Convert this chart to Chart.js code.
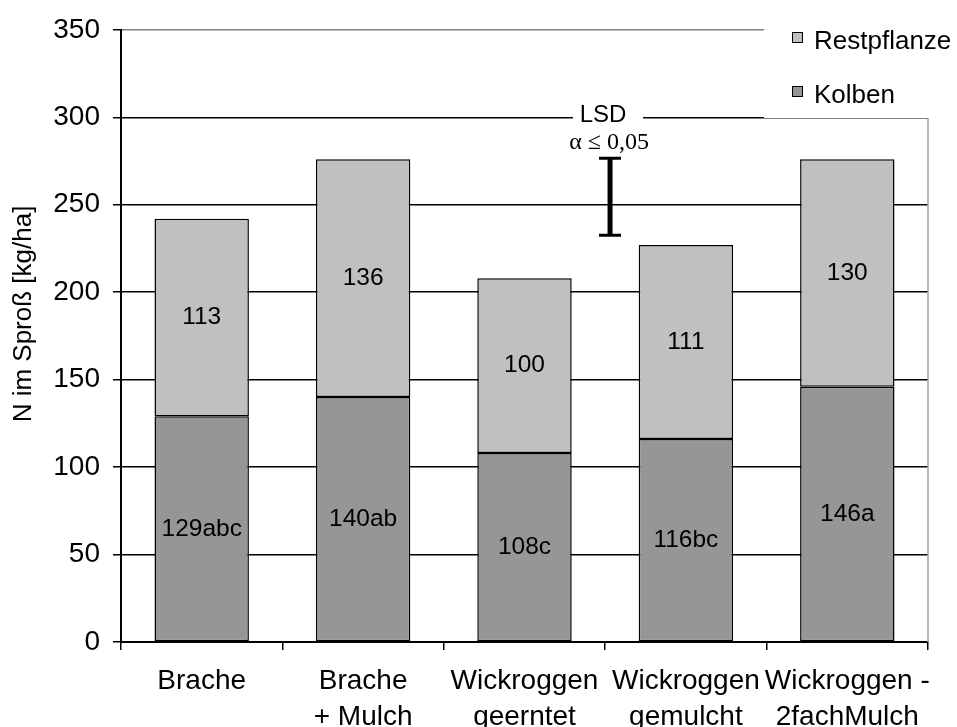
<!DOCTYPE html>
<html>
<head>
<meta charset="utf-8">
<script src="https://cdn.jsdelivr.net/npm/chart.js@4.4.1/dist/chart.umd.min.js"></script>
<style>
  html, body { margin: 0; padding: 0; background: #fff; }
  #c { display: block; }
</style>
</head>
<body>
<canvas id="c" width="957" height="727"></canvas>
<script>
// data
var categories = [
	['Brache'],
	['Brache', '+ Mulch'],
	['Wickroggen', 'geerntet'],
	['Wickroggen', 'gemulcht'],
	['Wickroggen -', '2fachMulch']
];
var kolben = [129, 140, 108, 116, 146];
var kolbenLetters = ['abc', 'ab', 'c', 'bc', 'a'];
var restpflanze = [113, 136, 100, 111, 130];
var yTicks = [0, 50, 100, 150, 200, 250, 300, 350];

// LSD bar (alpha <= 0.05)
var lsdTop = 276.5;
var lsdValue = 44;
var lsdX = 2.53; // between 3rd and 4th category

var FONT = "'Liberation Sans', Arial, sans-serif";

var overlay = {
	id: 'overlay',
	afterDatasetsDraw: function(chart) {
		var ctx = chart.ctx;
		var ca = chart.chartArea;
		var x = chart.scales.x, y = chart.scales.y;

		// segment labels
		ctx.save();
		ctx.font = '24.5px ' + FONT;
		ctx.fillStyle = '#000';
		ctx.textAlign = 'center';
		ctx.textBaseline = 'middle';
		chart.data.datasets.forEach(function(ds, di) {
			chart.getDatasetMeta(di).data.forEach(function(el, i) {
				var p = el.getCenterPoint();
				var txt = String(ds.data[i]) + (di === 0 ? kolbenLetters[i] : '');
				ctx.fillText(txt, p.x, p.y);
			});
		});
		ctx.restore();

		// y axis title
		ctx.save();
		ctx.translate(24, 314);
		ctx.rotate(-Math.PI / 2);
		ctx.font = '26px ' + FONT;
		ctx.fillStyle = '#000';
		ctx.textAlign = 'center';
		ctx.textBaseline = 'middle';
		ctx.fillText('N im Spro\u00df [kg/ha]', 0, 0);
		ctx.restore();

		// white box behind legend, right border below it
		ctx.save();
		ctx.fillStyle = '#fff';
		ctx.fillRect(764, 0, 957 - 764, 118);
		ctx.strokeStyle = '#a0a0a0';
		ctx.lineWidth = 1.5;
		ctx.beginPath();
		ctx.moveTo(ca.right, 118);
		ctx.lineTo(ca.right, ca.bottom);
		ctx.stroke();
		ctx.restore();

		// legend
		ctx.save();
		ctx.font = '26px ' + FONT;
		ctx.textBaseline = 'middle';
		ctx.textAlign = 'left';
		var items = [[1, 38], [0, 92]];
		items.forEach(function(it) {
			var ds = chart.data.datasets[it[0]];
			ctx.fillStyle = ds.backgroundColor;
			ctx.fillRect(792, it[1] - 6, 11, 11);
			ctx.strokeStyle = '#000';
			ctx.lineWidth = 1;
			ctx.strokeRect(792.5, it[1] - 5.5, 10, 10);
			ctx.fillStyle = '#000';
			ctx.fillText(ds.label, 814, it[1] + 4);
		});
		ctx.restore();

		// LSD label + bar
		var cx = x.getPixelForValue(lsdX);
		var yl = y.getPixelForValue(300);
		ctx.save();
		ctx.fillStyle = '#fff';
		ctx.fillRect(cx - 37, yl - 12, 70, 24);
		ctx.fillStyle = '#000';
		ctx.textAlign = 'center';
		ctx.textBaseline = 'middle';
		ctx.font = '24px ' + FONT;
		ctx.fillText('LSD', cx - 7, yl - 2);
		ctx.font = '24px "Liberation Serif", "Times New Roman", serif';
		ctx.fillText('\u03b1 \u2264 0,05', cx - 1, yl + 25);

		var yt = y.getPixelForValue(lsdTop);
		var yb = y.getPixelForValue(lsdTop - lsdValue);
		ctx.strokeStyle = '#000';
		ctx.lineWidth = 5;
		ctx.beginPath();
		ctx.moveTo(cx, yt);
		ctx.lineTo(cx, yb);
		ctx.stroke();
		ctx.lineWidth = 3;
		ctx.beginPath();
		ctx.moveTo(cx - 11, yt);
		ctx.lineTo(cx + 11, yt);
		ctx.moveTo(cx - 11, yb);
		ctx.lineTo(cx + 11, yb);
		ctx.stroke();
		ctx.restore();
	}
};

var config = {
	type: 'bar',
	data: {
		labels: categories,
		datasets: [{
			label: 'Kolben',
			data: kolben,
			backgroundColor: '#969696',
			borderColor: '#000',
			borderWidth: 1.5,
			borderSkipped: false,
			categoryPercentage: 1,
			barPercentage: 0.585
		}, {
			label: 'Restpflanze',
			data: restpflanze,
			backgroundColor: '#c0c0c0',
			borderColor: '#000',
			borderWidth: 1.5,
			borderSkipped: false,
			categoryPercentage: 1,
			barPercentage: 0.585
		}]
	},
	options: {
		responsive: false,
		animation: false,
		layout: {
			padding: { left: 0, right: 29, top: 28, bottom: 0 }
		},
		plugins: {
			legend: { display: false },
			title: { display: false },
			tooltip: { enabled: false }
		},
		scales: {
			x: {
				stacked: true,
				afterFit: function(scale) { scale.height = 85; },
				grid: {
					display: true,
					drawOnChartArea: false,
					offset: true,
					tickLength: 8,
					color: '#000',
					lineWidth: 1.5
				},
				border: { display: true, color: '#000', width: 2 },
				ticks: {
					color: '#000',
					font: { family: FONT, size: 28, lineHeight: 1.3 },
					padding: 13,
					maxRotation: 0,
					autoSkip: false
				}
			},
			y: {
				stacked: true,
				min: 0,
				max: 350,
				afterFit: function(scale) { scale.width = 121; },
				afterBuildTicks: function(scale) {
					scale.ticks = yTicks.map(function(v) { return { value: v }; });
				},
				grid: {
					color: function(c) { return c.tick && c.tick.value === 350 ? '#808080' : '#000'; },
					tickColor: '#000',
					lineWidth: 1.5,
					tickLength: 8
				},
				border: { display: true, color: '#000', width: 2 },
				ticks: {
					color: '#000',
					font: { family: FONT, size: 28 },
					padding: 13
				}
			}
		}
	},
	plugins: [overlay]
};

window.onload = function() {
	var ctx = document.getElementById('c').getContext('2d');
	window.myBar = new Chart(ctx, config);
};
</script>
</body>
</html>
